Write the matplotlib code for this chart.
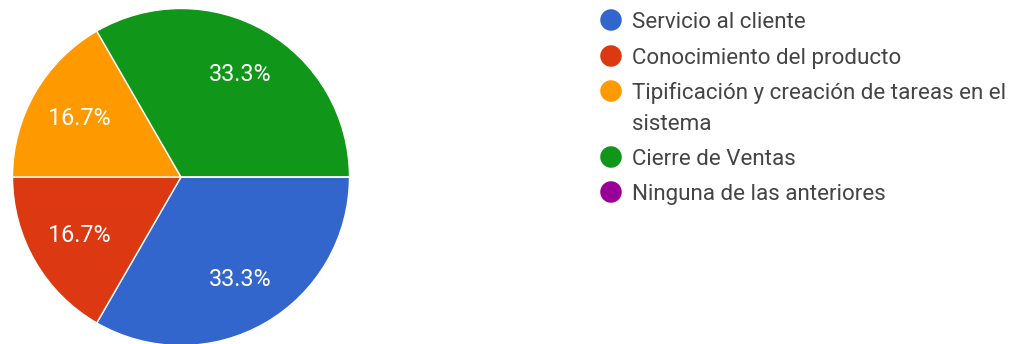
import matplotlib
matplotlib.use("Agg")
import matplotlib.pyplot as plt

plt.rcParams['font.family'] = ['Roboto', 'DejaVu Sans']

categories = [
    "Servicio al cliente",
    "Conocimiento del producto",
    "Tipificación y creación de tareas en el\nsistema",
    "Cierre de Ventas",
    "Ninguna de las anteriores",
]
responses = [2, 1, 1, 2, 0]
colors = ["#3366cc", "#dc3912", "#ff9900", "#109618", "#990099"]

W, H = 1018, 344
fig = plt.figure(figsize=(W / 100, H / 100), dpi=100)

# Pie: centre (181, 177) px, radius ~168 px
cx, cy, r = 181, 177, 168.5
ax = fig.add_axes([(cx - r) / W, (H - cy - r) / H, 2 * r / W, 2 * r / H])
wedges, texts, autotexts = ax.pie(
    responses,
    colors=colors,
    startangle=0,
    counterclock=False,
    autopct=lambda p: f"{p:.1f}%" if p > 0 else "",
    pctdistance=0.70,
    wedgeprops=dict(edgecolor="white", linewidth=1),
    textprops=dict(color="white", fontsize=16.8),
)
ax.set_xlim(-1, 1)
ax.set_ylim(-1, 1)
ax.set_aspect("equal")
ax.axis("off")

# Legend drawn in pixel coordinates
lax = fig.add_axes([0, 0, 1, 1])
lax.set_xlim(0, W)
lax.set_ylim(H, 0)
lax.axis("off")
row_y = [20, 56, 91, 157, 192]
line_gap = 31
for y, label, c in zip(row_y, categories, colors):
    lax.scatter([611], [y], s=240, color=c, edgecolors="none")
    for i, line in enumerate(label.split("\n")):
        lax.text(632, y + i * line_gap, line, va="center_baseline", ha="left",
                 fontsize=16.1, color="#444444")

fig.savefig("out.png", dpi=100)
